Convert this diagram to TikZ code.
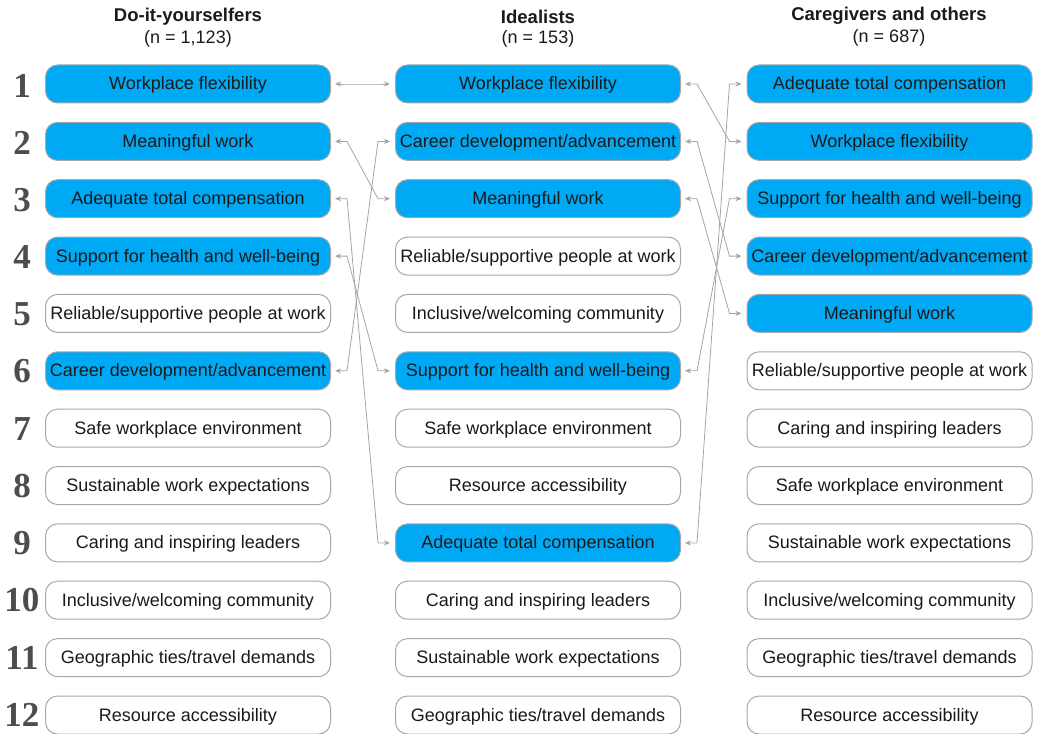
\documentclass[tikz,border=0pt]{standalone}
\usepackage{fontspec}
\setmainfont{Liberation Sans}
\newfontfamily\numfont{Liberation Serif}
\usepackage{tikz}
\definecolor{azul}{HTML}{00A9F4}
\definecolor{borda}{HTML}{A8A8A8}
\definecolor{cinzaseta}{HTML}{A4A4A4}
\definecolor{cinzanum}{HTML}{4D4D4D}
\definecolor{texto}{HTML}{1A1A1A}
\usetikzlibrary{arrows.meta, calc}
\tikzstyle{fator}=[rectangle, rounded corners=12pt, draw=borda, line width=1pt, fill=white, text=texto, minimum width=285pt, minimum height=38pt, inner sep=0pt, text height=12pt, text depth=0pt, font=\fontsize{18}{20}\selectfont]
\tikzstyle{destaque}=[fator, fill=azul]
\tikzstyle{posicao}=[text=cinzanum, inner sep=0pt, font=\numfont\bfseries\fontsize{35}{35}\selectfont]
\tikzstyle{grupo}=[inner sep=0pt, text=texto, font=\bfseries\fontsize{18.5}{20}\selectfont]
\tikzstyle{amostra}=[inner sep=0pt, text=texto, font=\fontsize{18}{20}\selectfont]
\tikzstyle{ligacao}=[draw=cinzaseta, line width=0.8pt, <->, shorten <=4pt, shorten >=5pt, to path={-- ++(16,0) -- ($(\tikztotarget)+(-17,0)$) -- (\tikztotarget)}]

\begin{document}
\begin{tikzpicture}[x=1pt, y=-1pt, >={Stealth[length=6pt, width=5pt]}]
	\useasboundingbox (0,0) rectangle (1040,733);
	% headers
	\node[grupo] (g1) at (188,17) {Do-it-yourselfers};
	\node[amostra] (s1) at (188,39) {(n = 1,123)};
	\node[grupo] (g2) at (538,17) {Idealists};
	\node[amostra] (s2) at (538,39) {(n = 153)};
	\node[grupo] (g3) at (889,16) {Caregivers and others};
	\node[amostra] (s3) at (889,38) {(n = 687)};
	% ranks
	\foreach \i in {1,...,12}
		\node[posicao] (n\i) at (22,{85.5+(\i-1)*57.2}) {\i};
	% do-it-yourselfers
	\node[destaque] (a1) at (188,84) {Workplace flexibility};
	\node[destaque] (a2) at (188,141.4) {Meaningful work};
	\node[destaque] (a3) at (188,198.7) {Adequate total compensation};
	\node[destaque] (a4) at (188,256.1) {Support for health and well-being};
	\node[fator] (a5) at (188,313.4) {Reliable/supportive people at work};
	\node[destaque] (a6) at (188,370.8) {Career development/advancement};
	\node[fator] (a7) at (188,428.2) {Safe workplace environment};
	\node[fator] (a8) at (188,485.5) {Sustainable work expectations};
	\node[fator] (a9) at (188,542.9) {Caring and inspiring leaders};
	\node[fator] (a10) at (188,600.2) {Inclusive/welcoming community};
	\node[fator] (a11) at (188,657.6) {Geographic ties/travel demands};
	\node[fator] (a12) at (188,715) {Resource accessibility};
	% idealists
	\node[destaque] (b1) at (538,84) {Workplace flexibility};
	\node[destaque] (b2) at (538,141.4) {Career development/advancement};
	\node[destaque] (b3) at (538,198.7) {Meaningful work};
	\node[fator] (b4) at (538,256.1) {Reliable/supportive people at work};
	\node[fator] (b5) at (538,313.4) {Inclusive/welcoming community};
	\node[destaque] (b6) at (538,370.8) {Support for health and well-being};
	\node[fator] (b7) at (538,428.2) {Safe workplace environment};
	\node[fator] (b8) at (538,485.5) {Resource accessibility};
	\node[destaque] (b9) at (538,542.9) {Adequate total compensation};
	\node[fator] (b10) at (538,600.2) {Caring and inspiring leaders};
	\node[fator] (b11) at (538,657.6) {Sustainable work expectations};
	\node[fator] (b12) at (538,715) {Geographic ties/travel demands};
	% caregivers and others
	\node[destaque] (c1) at (889.5,84) {Adequate total compensation};
	\node[destaque] (c2) at (889.5,141.4) {Workplace flexibility};
	\node[destaque] (c3) at (889.5,198.7) {Support for health and well-being};
	\node[destaque] (c4) at (889.5,256.1) {Career development/advancement};
	\node[destaque] (c5) at (889.5,313.4) {Meaningful work};
	\node[fator] (c6) at (889.5,370.8) {Reliable/supportive people at work};
	\node[fator] (c7) at (889.5,428.2) {Caring and inspiring leaders};
	\node[fator] (c8) at (889.5,485.5) {Safe workplace environment};
	\node[fator] (c9) at (889.5,542.9) {Sustainable work expectations};
	\node[fator] (c10) at (889.5,600.2) {Inclusive/welcoming community};
	\node[fator] (c11) at (889.5,657.6) {Geographic ties/travel demands};
	\node[fator] (c12) at (889.5,715) {Resource accessibility};
	% rank changes
	\draw[ligacao] (a1.east) to (b1.west);
	\draw[ligacao] (a2.east) to (b3.west);
	\draw[ligacao] (a3.east) to (b9.west);
	\draw[ligacao] (a4.east) to (b6.west);
	\draw[ligacao] (a6.east) to (b2.west);
	\draw[ligacao] (b1.east) to (c2.west);
	\draw[ligacao] (b2.east) to (c4.west);
	\draw[ligacao] (b3.east) to (c5.west);
	\draw[ligacao] (b6.east) to (c3.west);
	\draw[ligacao] (b9.east) to (c1.west);
\end{tikzpicture}
\end{document}
